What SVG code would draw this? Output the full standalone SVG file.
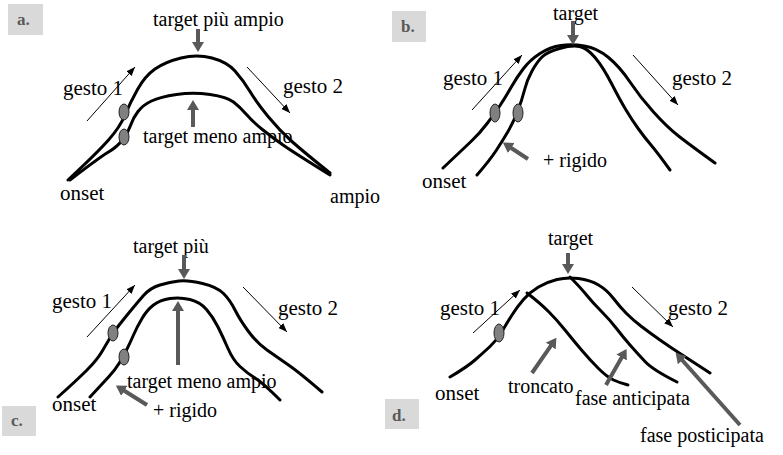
<svg xmlns="http://www.w3.org/2000/svg" width="783" height="455" viewBox="0 0 783 455">
<defs>
<style>
.t{font-family:"Liberation Serif","Times New Roman",serif;font-size:20px;fill:#000}
.t2{font-family:"Liberation Serif","Times New Roman",serif;font-size:21px;fill:#000}
.lb{font-family:"Liberation Serif","Times New Roman",serif;font-size:17px;font-weight:bold;fill:#595959}
.box{fill:#d9d9d9}
.c{fill:none;stroke:#000;stroke-width:3;stroke-linecap:round;stroke-linejoin:round}
.el{fill:#808080;stroke:#222;stroke-width:1}
.g{stroke:#595959;stroke-width:4;fill:none;marker-end:url(#ga)}
.k{stroke:#000;stroke-width:1;fill:none;marker-end:url(#ka)}
</style>
<marker id="ga" viewBox="0 0 10 12" markerWidth="10" markerHeight="12" refX="1" refY="6" orient="auto" markerUnits="userSpaceOnUse"><path d="M0,0 L10,6 L0,12 z" fill="#595959"/></marker>
<marker id="ka" viewBox="0 0 9 7" markerWidth="9" markerHeight="7" refX="9" refY="3.5" orient="auto" markerUnits="userSpaceOnUse"><path d="M0,0 L9,3.5 L0,7 z" fill="#000"/></marker>
</defs>
<rect width="783" height="455" fill="#fff"/>

<g id="panel-a">
<rect class="box" x="8" y="4" width="35" height="31"/><text class="lb" x="17" y="25">a.</text>
<path class="c" d="M68,180 Q97,153 108.5,140 Q120,127 125,115 Q130,103 137.5,89.5 Q145,76 155,69 Q165,62 181,58 Q197,54 212,58 Q227,62 235,71 Q243,80 250,91.5 Q257,103 268.5,117 Q280,131 292.5,142 Q305,153 330,173"/>
<path class="c" d="M70,180 Q100,157 108.5,152 Q117,147 122.5,140 Q128,133 130.5,125.5 Q133,118 138,111.5 Q143,105 151.5,101 Q160,97 176.5,94.5 Q193,92 210,94.5 Q227,97 233.5,102 Q240,107 246.5,114.5 Q253,122 263,130 Q273,138 283,145 Q293,152 330,175"/>
<ellipse class="el" cx="124" cy="112" rx="5" ry="8"/>
<ellipse class="el" cx="124" cy="137" rx="5" ry="8"/>
<text class="t" x="153" y="26">target più ampio</text>
<text class="t2" x="63" y="95">gesto 1</text>
<text class="t2" x="283" y="93">gesto 2</text>
<text class="t" x="143" y="143">target meno ampio</text>
<text class="t2" x="60" y="200">onset</text>
<text class="t" x="330" y="203">ampio</text>
</g>

<g id="panel-b">
<rect class="box" x="392" y="11" width="34" height="31"/><text class="lb" x="401" y="32">b.</text>
<path class="c" d="M443,168 Q462,150 471,141.5 Q480,133 487.5,123 Q495,113 500,105.5 Q505,98 511,87.5 Q517,77 523.5,68.5 Q530,60 540,53.5 Q550,47 561,45.5 Q572,44 584.5,46 Q597,48 608.5,57.5 Q620,67 630,82 Q640,97 653.5,112 Q667,127 678.5,136 Q690,145 715,163"/>
<path class="c" d="M477,175 Q490,160 496.5,150 Q503,140 508,131.5 Q513,123 517.5,111.5 Q522,100 524.5,90 Q527,80 532,71 Q537,62 542,57 Q547,52 559.5,48.5 Q572,45 579.5,46.5 Q587,48 595,57.5 Q603,67 611.5,83.5 Q620,100 626,110 Q632,120 638.5,129 Q645,138 651,145 Q657,152 670,170"/>
<ellipse class="el" cx="495" cy="113" rx="5" ry="9"/>
<ellipse class="el" cx="518" cy="113" rx="5" ry="9"/>
<text class="t" x="553" y="20">target</text>
<text class="t2" x="443" y="85">gesto 1</text>
<text class="t2" x="672" y="85">gesto 2</text>
<text class="t" x="543" y="167">+ rigido</text>
<text class="t2" x="422" y="188">onset</text>
</g>

<g id="panel-c">
<rect class="box" x="2" y="406" width="34" height="30"/><text class="lb" x="11" y="426">c.</text>
<path class="c" d="M58,397 Q77,380 87,370 Q97,360 102,351.5 Q107,343 110,338 Q113,333 118,326.5 Q123,320 130,311.5 Q137,303 143.5,295.5 Q150,288 160,285 Q170,282 179,281 Q188,280 202.5,283.5 Q217,287 223.5,293.5 Q230,300 235,310 Q240,320 248.5,331.5 Q257,343 267,350 Q277,357 288.5,365 Q300,373 322,392"/>
<path class="c" d="M90,397 Q103,383 109,376.5 Q115,370 119,363.5 Q123,357 126.5,350 Q130,343 133.5,335 Q137,327 142,318.5 Q147,310 153.5,305 Q160,300 170,298.5 Q180,297 190,299.5 Q200,302 206.5,309.5 Q213,317 218,327 Q223,337 228,348.5 Q233,360 240,366.5 Q247,373 255,378 Q263,383 280,400"/>
<ellipse class="el" cx="113" cy="333" rx="5" ry="8"/>
<ellipse class="el" cx="124" cy="357" rx="5" ry="8"/>
<text class="t" x="133" y="253">target più</text>
<text class="t2" x="52" y="308">gesto 1</text>
<text class="t2" x="278" y="315">gesto 2</text>
<text class="t" x="127" y="388">target meno ampio</text>
<text class="t" x="153" y="417">+ rigido</text>
<text class="t2" x="52" y="411">onset</text>
</g>

<g id="panel-d">
<rect class="box" x="385" y="399" width="34" height="30"/><text class="lb" x="392" y="421">d.</text>
<path class="c" d="M450,377 Q467,367 475,360 Q483,353 490,346.5 Q497,340 502,331.5 Q507,323 512,315 Q517,307 523.5,299.5 Q530,292 538.5,287 Q547,282 557,279.5 Q567,277 578.5,278.5 Q590,280 598.5,285 Q607,290 613.5,298.5 Q620,307 626.5,313.5 Q633,320 641.5,326.5 Q650,333 660,340 Q670,347 680,353.5 Q690,360 710,373"/>
<path class="c" d="M527,293 Q540,303 548.5,311.5 Q557,320 565,330 Q573,340 581.5,350 Q590,360 598.5,368.5 Q607,377 613.5,380 Q620,383 628,385"/>
<path class="c" d="M570,277 Q580,287 586.5,295 Q593,303 601.5,311.5 Q610,320 616.5,328.5 Q623,337 630,345 Q637,353 645,361.5 Q653,370 677,382"/>
<ellipse class="el" cx="499" cy="333" rx="5" ry="9"/>
<text class="t" x="548" y="245">target</text>
<text class="t2" x="440" y="315">gesto 1</text>
<text class="t2" x="668" y="315">gesto 2</text>
<text class="t2" x="435" y="400">onset</text>
<text class="t" x="508" y="393">troncato</text>
<text class="t" x="575" y="405">fase anticipata</text>
<text class="t" x="640" y="442">fase posticipata</text>
</g>

<g id="connectors">
<line class="g" x1="198" y1="29" x2="198" y2="43"/>
<line class="g" x1="193" y1="127" x2="193" y2="109"/>
<line class="k" x1="87" y1="121" x2="135" y2="67"/>
<line class="k" x1="247" y1="67" x2="290" y2="113"/>

<line class="g" x1="573" y1="21" x2="573" y2="36"/>
<line class="g" x1="528" y1="159" x2="510.4" y2="147.5"/>
<line class="k" x1="472" y1="110" x2="522" y2="55"/>
<line class="k" x1="633" y1="55" x2="678" y2="105"/>

<line class="g" x1="184" y1="255" x2="184" y2="270"/>
<line class="g" x1="178" y1="365" x2="178" y2="310"/>
<line class="g" x1="147" y1="405" x2="123.5" y2="390.3"/>
<line class="k" x1="87" y1="337" x2="135" y2="285"/>
<line class="k" x1="243" y1="287" x2="287" y2="332"/>

<line class="g" x1="568" y1="253" x2="568" y2="265"/>
<line class="g" x1="532" y1="373" x2="551.3" y2="345.2"/>
<line class="g" x1="606" y1="385" x2="622.1" y2="356.7"/>
<line class="g" x1="740" y1="425" x2="681.6" y2="359.5"/>
<line class="k" x1="473" y1="333" x2="520" y2="290"/>
<line class="k" x1="632" y1="287" x2="673" y2="327"/>
</g>
</svg>
